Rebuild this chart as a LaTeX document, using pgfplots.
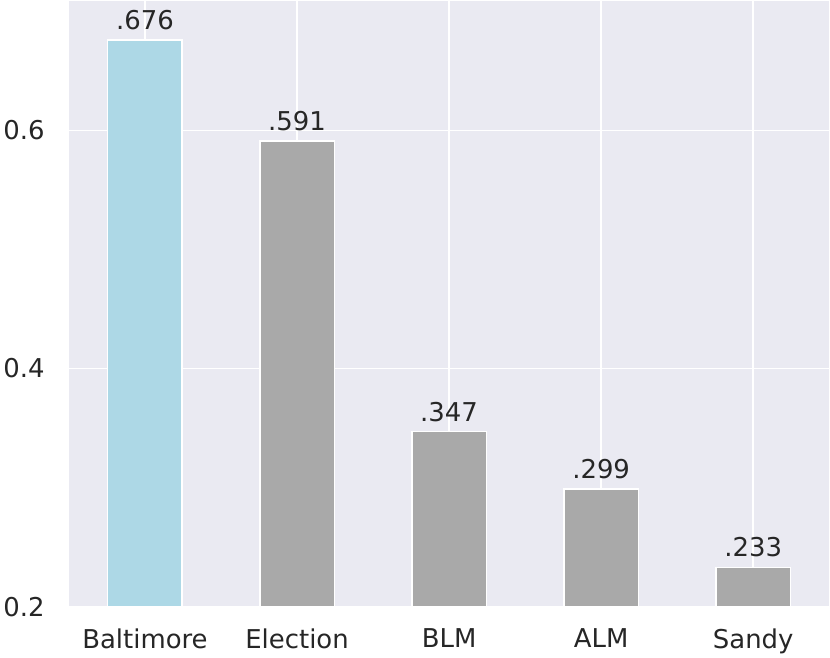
\documentclass[border=0pt]{standalone}
\usepackage{fontspec}
\setmainfont{DejaVu Sans}
\usepackage{pgfplots}
\pgfplotsset{compat=1.18}
\definecolor{bg}{HTML}{EAEAF2}
\definecolor{txt}{HTML}{262626}
\definecolor{lblue}{HTML}{ADD8E6}
\definecolor{dgray}{HTML}{A9A9A9}
\begin{document}
\begin{tikzpicture}
\begin{axis}[
  scale only axis,
  width=763pt, height=608pt,
  xmin=-0.5, xmax=4.5,
  ymin=0.2, ymax=0.709,
  axis background/.style={fill=bg},
  axis line style={draw=none},
  major tick length=0pt,
  grid=major,
  major grid style={white, line width=1.6pt},
  xtick={0,1,2,3,4},
  xticklabels={Baltimore,Election,BLM,ALM,Sandy},
  ytick={0.2,0.4,0.6},
  yticklabels={0.2,0.4,0.6},
  tick label style={font=\fontsize{26}{31}\selectfont, text=txt},
  yticklabel style={xshift=-21pt},
  xticklabel style={yshift=-19pt},
  /pgf/number format/assume math mode=true,
  ybar, bar width=0.49, bar shift=0pt,
  nodes near coords,
  point meta=explicit symbolic,
  nodes near coords style={font=\fontsize{26}{31}\selectfont, text=txt, yshift=6pt},
  clip=true,
]
\addplot[fill=lblue, draw=white, line width=1.5pt] coordinates {(0,0.676) [.676]};
\addplot[fill=dgray, draw=white, line width=1.5pt] coordinates {(1,0.591) [.591] (2,0.347) [.347] (3,0.299) [.299] (4,0.233) [.233]};
\end{axis}
\end{tikzpicture}
\end{document}
